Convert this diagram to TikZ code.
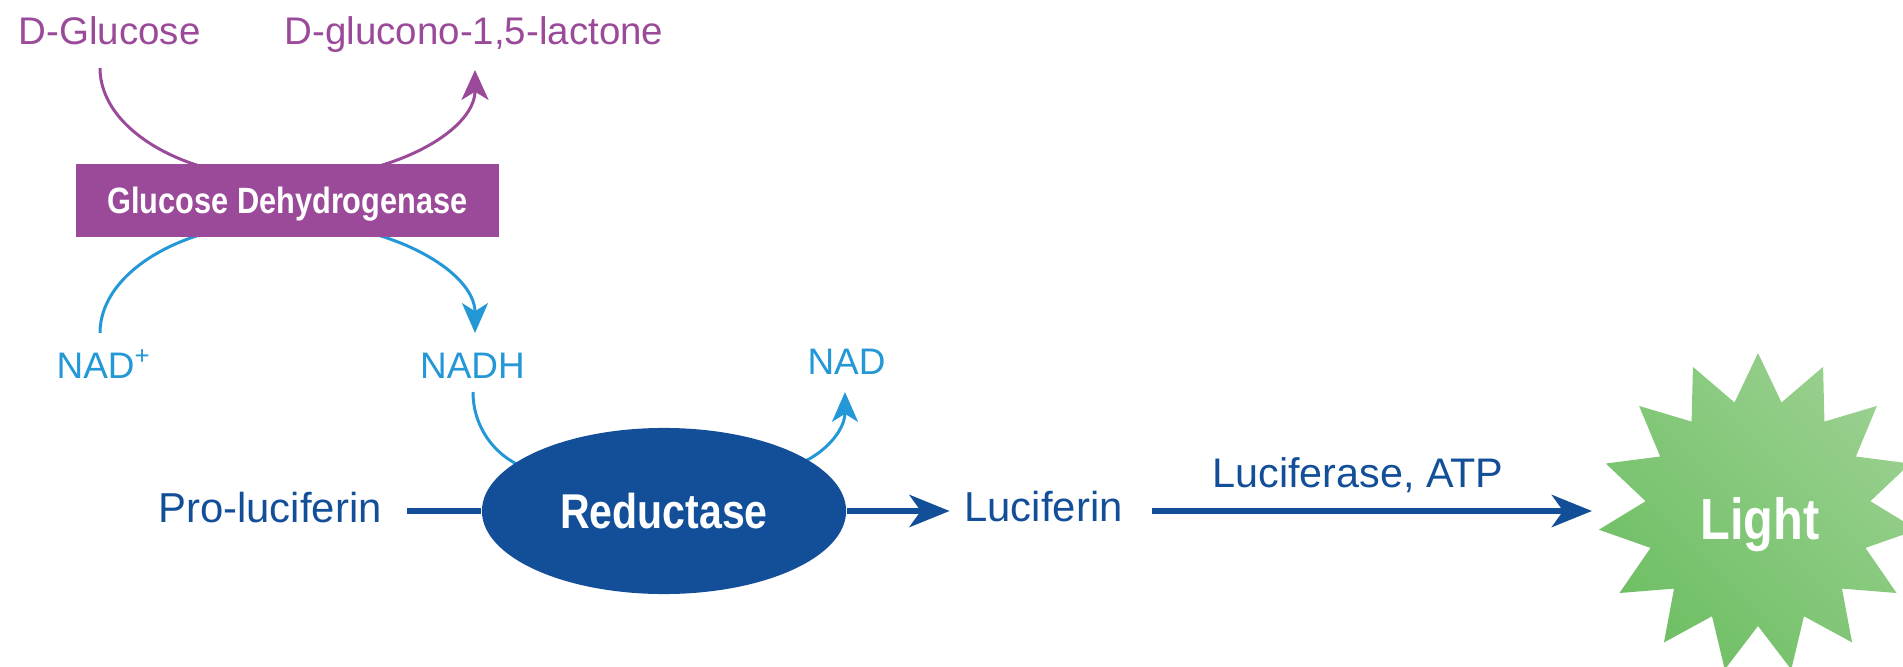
\documentclass[tikz,border=0pt]{standalone}
\usepackage{fontspec}
\setmainfont{Liberation Sans}
\newfontfamily\condfont{Liberation Sans}[FakeStretch=0.84]
\usetikzlibrary{arrows.meta,shapes.geometric}
\definecolor{purp}{HTML}{9B4A9A}
\definecolor{cyanb}{HTML}{2497D6}
\definecolor{navy}{HTML}{124F98}
\definecolor{gdark}{HTML}{6FBF65}
\definecolor{glight}{HTML}{99D08F}
\begin{document}
\begin{tikzpicture}[x=0.01cm,y=-0.01cm,
  txt/.style={inner sep=0pt, anchor=base},
  ptxt/.style={txt, text=purp, font=\fontsize{10.95}{13}\selectfont},
  ctxt/.style={txt, text=cyanb, font=\fontsize{10.5}{12.5}\selectfont},
  ntxt/.style={txt, text=navy, font=\fontsize{11.9}{14}\selectfont},
  enz/.style={inner sep=0pt, text=white, text depth=0pt},
  pline/.style={draw=purp, line width=0.85pt},
  cline/.style={draw=cyanb, line width=0.85pt},
  nline/.style={draw=navy, line width=1.85pt},
  ptip/.style={-{Stealth[length=8.5pt,width=7.7pt,inset=2.3pt]}},
  ctip/.style={-{Stealth[length=8.5pt,width=7.4pt,inset=2.3pt]}},
  ntip/.style={-{Stealth[length=11.4pt,width=9.1pt,inset=3.2pt]}}
]
\useasboundingbox (0,0) rectangle (1903,667);

% starburst
\begin{scope}
  \clip (0,0) rectangle (1903,667);
  \begin{scope}[shift={(1758,513)}]
    \shade[top color=glight, bottom color=gdark, shading angle=-45]
      (-90:160) \foreach \i in {0,...,14} { -- ({-78+24*\i}:113) -- ({-66+24*\i}:160) } -- cycle;
  \end{scope}
\end{scope}

% coordinates for curve ends
\coordinate (gs) at (100,68);
\coordinate (gmid) at (287.5,179);
\coordinate (ge) at (475,70);
\coordinate (bs) at (100,333);
\coordinate (bmid) at (287.5,222);
\coordinate (be) at (475,333);
\coordinate (nadhs) at (473,392);
\coordinate (nadhm) at (554,473);
\coordinate (nadm) at (766.5,470.5);
\coordinate (nade) at (845,392);

% curves (behind enzymes)
\draw[pline] (gs) .. controls +(0,61) and +(-104,0) .. (gmid);
\draw[pline,ptip] (gmid) .. controls +(104,0) and +(0,61) .. (ge);
\draw[cline] (bs) .. controls +(0,-61) and +(-104,0) .. (bmid);
\draw[cline,ctip] (bmid) .. controls +(104,0) and +(0,-61) .. (be);
\draw[cline] (nadhs) .. controls +(0,45) and +(-45,0) .. (nadhm);
\draw[cline,ctip] (nadm) .. controls +(43.5,0) and +(0,43.5) .. (nade);

% text nodes
\node[ptxt] (gluc) at (109.5,45) {D-Glucose};
\node[ptxt] (lact) at (474,45) {D-glucono-1,5-lactone};
\node[ctxt, anchor=base west] (nadp) at (56,378) {NAD\textsuperscript{+}};
\node[ctxt] (nadh) at (472.5,378) {NADH};
\node[ctxt] (nad) at (846.5,374) {NAD};
\node[ntxt] (pro) at (270,522) {Pro-luciferin};
\node[ntxt] (lucif) at (1043.5,521) {Luciferin};
\node[ntxt, font=\fontsize{11.75}{14}\selectfont] (lucat) at (1358,487) {Luciferase, ATP};

% enzymes
\node[enz, rectangle, fill=purp, minimum width=4.23cm, minimum height=0.73cm,
      font=\condfont\bfseries\fontsize{10.4}{12}\selectfont] (gdh) at (287.5,200.5) {Glucose Dehydrogenase};
\node[enz, ellipse, fill=navy, minimum width=3.64cm, minimum height=1.66cm,
      font=\condfont\bfseries\fontsize{13.9}{16}\selectfont] (red) at (664,511) {Reductase};
\node[enz, font=\condfont\bfseries\fontsize{16.5}{18}\selectfont] (light) at (1760,518) {Light};

% main line
\coordinate (lighttip) at (1592,511);
\draw[nline] ([xshift=7.1pt]pro.east |- red.west) -- (red.west);
\draw[nline,ntip] (red.east) -- ([xshift=-4pt]lucif.west |- red.east);
\draw[nline,ntip] ([xshift=8.25pt]lucif.east |- red.east) -- (lighttip);
\end{tikzpicture}
\end{document}
